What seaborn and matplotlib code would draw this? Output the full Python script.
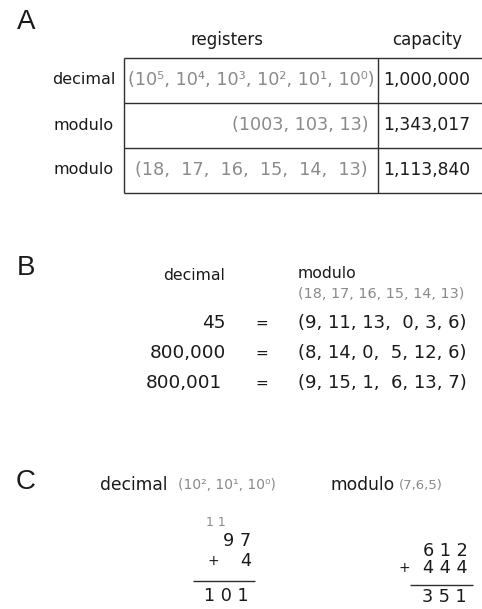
import matplotlib
matplotlib.use("Agg")
import matplotlib.pyplot as plt
import seaborn as sns

# ---------------- data ----------------
panel_labels = ["A", "B", "C"]

a_headers = ["registers", "capacity"]
a_row_labels = ["decimal", "modulo", "modulo"]
a_registers = ["(10\u2075, 10\u2074, 10\u00b3, 10\u00b2, 10\u00b9, 10\u2070)",
               "(1003, 103, 13)",
               "(18,  17,  16,  15,  14,  13)"]
a_capacity = [1000000, 1343017, 1113840]

b_headers = ["decimal", "modulo"]
b_moduli = [18, 17, 16, 15, 14, 13]
b_decimal = [45, 800000, 800001]
b_residues = [[9, 11, 13, 0, 3, 6],
              [8, 14, 0, 5, 12, 6],
              [9, 15, 1, 6, 13, 7]]

c_headers = ["decimal", "modulo"]
c_bases = ["(10\u00b2, 10\u00b9, 10\u2070)", "(7,6,5)"]
c_carry = "1 1"
c_dec_a, c_dec_b, c_dec_sum = "97", "4", "101"
c_mod_a, c_mod_b, c_mod_sum = "612", "444", "351"

# ---------------- style ----------------
sns.set_theme(style="white")
plt.rcParams["font.family"] = ["DejaVu Sans"]
BLACK = "#1a1a1a"
GRAY = "#8a8a8a"
LINE = "#2e2e2e"

fig = plt.figure(figsize=(4.82, 6.09), dpi=100)
ax = fig.add_axes([0, 0, 1, 1])
ax.set_xlim(0, 482)
ax.set_ylim(609, 0)
ax.axis("off")
sns.despine(ax=ax, left=True, bottom=True)

def spaced(s):
    return " ".join(list(s))

# panel letters
for lab, y in zip(panel_labels, [22, 268, 482]):
    ax.text(26, y, lab, ha="center", va="center", fontsize=20,
            family="Liberation Sans", color=BLACK)

# ---------------- A: table ----------------
ax.text(227, 40, a_headers[0], ha="center", va="center", fontsize=12, color=BLACK)
ax.text(427, 40, a_headers[1], ha="center", va="center", fontsize=12, color=BLACK)

row_y = [80, 125, 170]
ax.hlines([58, 103, 148, 193], 124, 482, color=LINE, lw=1.0)
ax.vlines([124, 378], 58, 193, color=LINE, lw=1.0)

for i, (lab, reg, cap) in enumerate(zip(a_row_labels, a_registers, a_capacity)):
    y = row_y[i]
    ax.text(84, y, lab, ha="center", va="center", fontsize=11.5, color=BLACK)
    if i == 1:
        ax.text(369, y, reg, ha="right", va="center", fontsize=12.7, color=GRAY)
    else:
        ax.text(251, y, reg, ha="center", va="center", fontsize=12.7, color=GRAY)
    ax.text(383, y, f"{cap:,}", ha="left", va="center", fontsize=12.3, color=BLACK)

# ---------------- B ----------------
ax.text(194, 276, b_headers[0], ha="center", va="center", fontsize=11.3, color=BLACK)
ax.text(298, 274, b_headers[1], ha="left", va="center", fontsize=11.3, color=BLACK)
ax.text(298, 294, "(" + ", ".join(str(m) for m in b_moduli) + ")",
        ha="left", va="center", fontsize=10.4, color=GRAY)

def fmt_res(r):
    parts = [str(v) for v in r]
    return "(" + ", ".join(parts[:3]) + ",  " + ", ".join(parts[3:]) + ")"

b_row_y = [323, 353, 383]
b_right = [226, 226, 222]
for y, xr, d, r in zip(b_row_y, b_right, b_decimal, b_residues):
    ax.text(xr, y, f"{d:,}", ha="right", va="center", fontsize=13.3, color=BLACK)
    ax.text(262, y, "=", ha="center", va="center", fontsize=11, color=BLACK)
    ax.text(298, y, fmt_res(r), ha="left", va="center", fontsize=13, color=BLACK)

# ---------------- C ----------------
ax.text(100, 485, c_headers[0], ha="left", va="center", fontsize=12.3, color=BLACK)
ax.text(178, 485, c_bases[0], ha="left", va="center", fontsize=10, color=GRAY)
ax.text(330, 485, c_headers[1], ha="left", va="center", fontsize=12.3, color=BLACK)
ax.text(399, 485, c_bases[1], ha="left", va="center", fontsize=9.5, color=GRAY)

# decimal addition
ax.text(216, 522, c_carry, ha="center", va="center", fontsize=9, color=GRAY)
ax.text(251, 541, spaced(c_dec_a), ha="right", va="center", fontsize=12.7, color=BLACK)
ax.text(213, 561, "+", ha="center", va="center", fontsize=10, color=BLACK)
ax.text(251, 561, spaced(c_dec_b), ha="right", va="center", fontsize=12.7, color=BLACK)
ax.hlines(581, 193, 255, color=LINE, lw=1.0)
ax.text(249, 596, spaced(c_dec_sum), ha="right", va="center", fontsize=12.7, color=BLACK)

# modulo addition
ax.text(468, 551, spaced(c_mod_a), ha="right", va="center", fontsize=12.7, color=BLACK)
ax.text(404, 568, "+", ha="center", va="center", fontsize=10, color=BLACK)
ax.text(468, 568, spaced(c_mod_b), ha="right", va="center", fontsize=12.7, color=BLACK)
ax.hlines(585, 410, 473, color=LINE, lw=1.0)
ax.text(467, 597, spaced(c_mod_sum), ha="right", va="center", fontsize=12.7, color=BLACK)

fig.savefig("out.png", dpi=100)
